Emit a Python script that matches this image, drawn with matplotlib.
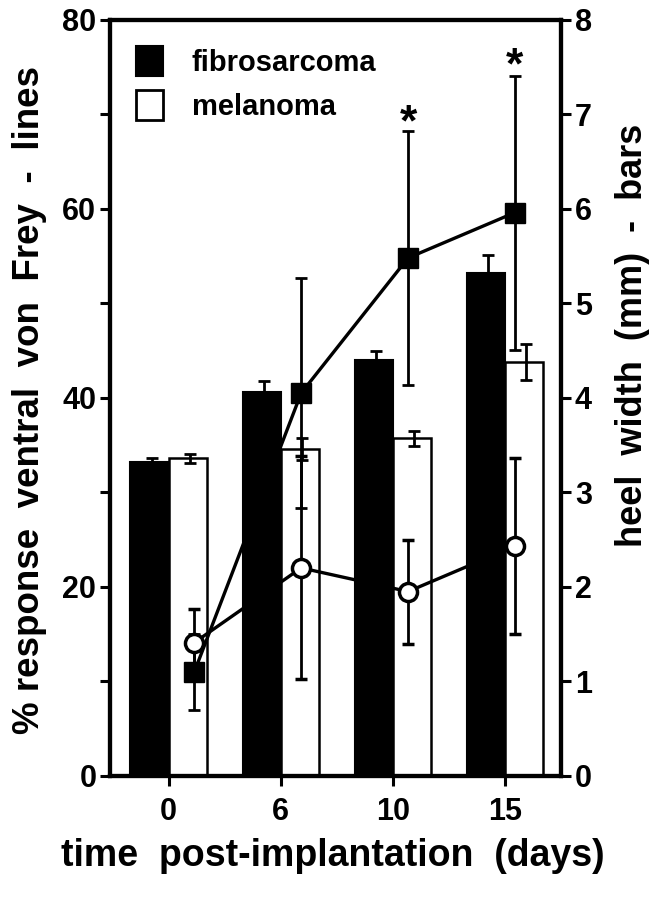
import numpy as np
import matplotlib

matplotlib.use("Agg")
import matplotlib.pyplot as plt
from matplotlib.patches import Patch

plt.rcParams["font.family"] = ["Liberation Sans", "DejaVu Sans"]
plt.rcParams["font.weight"] = "bold"
plt.rcParams["axes.labelweight"] = "bold"

# --- data -------------------------------------------------------------------
days = ["0", "6", "10", "15"]

# heel width (mm) - bars, right axis
fibro_heel = [3.32, 4.06, 4.40, 5.32]
fibro_heel_err = [0.04, 0.12, 0.09, 0.19]
mela_heel = [3.36, 3.46, 3.57, 4.38]
mela_heel_err = [0.05, 0.12, 0.08, 0.19]

# % response ventral von Frey - lines, left axis
fibro_vf = [11.0, 40.5, 54.8, 59.6]
fibro_vf_err = [4.0, 12.2, 13.4, 14.5]
mela_vf = [14.1, 22.0, 19.5, 24.3]
mela_vf_err = [3.6, 11.8, 5.5, 9.3]

# significance stars (placed on left-axis scale)
star_y = [None, None, 69.0, 75.0]

# --- figure -----------------------------------------------------------------
fig = plt.figure(figsize=(6.6, 8.99), dpi=100)
ax = fig.add_axes([0.167, 0.137, 0.683, 0.841])
ax2 = ax.twinx()
ax.set_zorder(ax2.get_zorder() + 1)
ax.patch.set_visible(False)

x = np.arange(len(days))
bw = 0.34
ax2.bar(x - bw / 2, fibro_heel, bw, color="black", edgecolor="black", linewidth=1.5)
ax2.bar(x + bw / 2, mela_heel, bw, color="white", edgecolor="black", linewidth=1.8)
ax2.errorbar(x - bw / 2 + 0.02, fibro_heel, yerr=fibro_heel_err, fmt="none",
             ecolor="black", elinewidth=2, capsize=4, capthick=2)
ax2.errorbar(x + bw / 2 + 0.02, mela_heel, yerr=mela_heel_err, fmt="none",
             ecolor="black", elinewidth=2, capsize=4, capthick=2)

# the line series sit on their own (slightly compressed) x scale in the original
xl = 0.23 + 0.953 * x
ax.errorbar(xl, fibro_vf, yerr=fibro_vf_err, color="black", lw=2.4, marker="s",
            ms=14, mfc="black", mec="black", elinewidth=2, capsize=4, capthick=2)
ax.errorbar(xl, mela_vf, yerr=mela_vf_err, color="black", lw=2.4, marker="o",
            ms=13, mfc="white", mec="black", mew=2.5, elinewidth=2, capsize=4, capthick=2)

for xi, sy in zip(xl, star_y):
    if sy is not None:
        ax.text(xi, sy, "*", ha="center", va="center", fontsize=32)

ax.set_xlim(-0.52, 3.50)
ax.set_ylim(0, 80)
ax2.set_ylim(0, 8)

ax.set_xticks(x)
ax.set_xticklabels(days)
ax.set_yticks(range(0, 81, 10))
ax.set_yticklabels([str(v) if v % 20 == 0 else "" for v in range(0, 81, 10)])
ax2.set_yticks(range(0, 9))

for a in (ax, ax2):
    for sp in a.spines.values():
        sp.set_linewidth(3)
    a.tick_params(length=7, width=2.2, labelsize=22, pad=3)
ax.tick_params(axis="x", pad=8)

fig.text(0.045, 0.555, "% response  ventral  von  Frey  -  lines", rotation=90,
         fontsize=26.5, ha="center", va="center")
fig.text(0.958, 0.627, "heel  width  (mm)  -  bars", rotation=90, fontsize=26,
         ha="center", va="center")
fig.text(0.505, 0.048, "time  post-implantation  (days)", fontsize=27,
         ha="center", va="center")

handles = [Patch(facecolor="black", edgecolor="black", lw=1.5),
           Patch(facecolor="white", edgecolor="black", lw=2)]
ax.legend(handles, ["fibrosarcoma", "melanoma"], loc="upper left",
          bbox_to_anchor=(0.0, 1.0), frameon=False, fontsize=21,
          handlelength=0.9, handleheight=1.2, handletextpad=1.0, labelspacing=0.45)

fig.savefig("out.png", dpi=100)
